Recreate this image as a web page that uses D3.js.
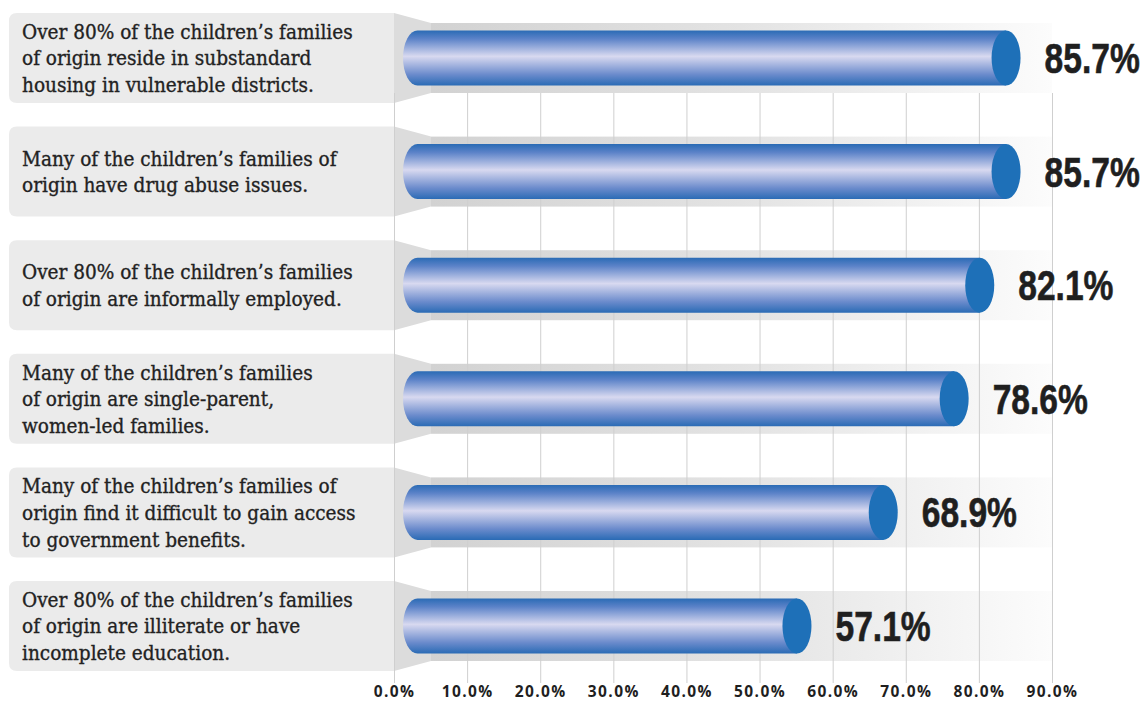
<!DOCTYPE html>
<html>
<head>
<meta charset="utf-8">
<script src="https://cdnjs.cloudflare.com/ajax/libs/d3/7.8.5/d3.min.js"></script>
<style>
  html, body { margin: 0; padding: 0; background: #fff; }
  svg { display: block; }
</style>
</head>
<body>
<div id="chart"></div>
<script>
// statements shown on the left, split into lines as in the picture
var labels = [
  ["Over 80% of the children\u2019s families", "of origin reside in substandard", "housing in vulnerable districts."],
  ["Many of the children\u2019s families of", "origin have drug abuse issues."],
  ["Over 80% of the children\u2019s families", "of origin are informally employed."],
  ["Many of the children\u2019s families", "of origin are single-parent,", "women-led families."],
  ["Many of the children\u2019s families of", "origin find it difficult to gain access", "to government benefits."],
  ["Over 80% of the children\u2019s families", "of origin are illiterate or have", "incomplete education."]
];
var values = [85.7, 85.7, 82.1, 78.6, 68.9, 57.1];
var ticks = [0, 10, 20, 30, 40, 50, 60, 70, 80, 90];

var width = 1146, height = 702;

var svg = d3.select("#chart").append("svg")
  .attr("width", width)
  .attr("height", height);

var x = d3.scaleLinear().domain([0, 90]).range([394, 1052]);
var y = d3.scalePoint().domain(d3.range(values.length)).range([58, 626]);

var boxLeft = 9, boxHalf = 45, trackHalf = 35, trackStart = 431;
var barHalf = 27.5, capRx = 14.5, barLeft = 403;

var defs = svg.append("defs");

var tg = defs.append("linearGradient").attr("id", "track")
  .attr("gradientUnits", "userSpaceOnUse")
  .attr("x1", trackStart).attr("x2", x(90)).attr("y1", 0).attr("y2", 0);
tg.append("stop").attr("offset", 0).attr("stop-color", "#d2d2d2");
tg.append("stop").attr("offset", 0.5).attr("stop-color", "#e3e3e3");
tg.append("stop").attr("offset", 1).attr("stop-color", "#fcfcfc");

var bg = defs.append("linearGradient").attr("id", "barfill")
  .attr("x1", 0).attr("x2", 0).attr("y1", 0).attr("y2", 1);
bg.append("stop").attr("offset", 0).attr("stop-color", "#2a6bb5");
bg.append("stop").attr("offset", 0.15).attr("stop-color", "#5b82c8");
bg.append("stop").attr("offset", 0.47).attr("stop-color", "#d8d9f0");
bg.append("stop").attr("offset", 0.8).attr("stop-color", "#6b8bcc");
bg.append("stop").attr("offset", 1).attr("stop-color", "#2a6bb5");

var rows = svg.append("g").selectAll("g")
  .data(values)
  .join("g");

// label boxes, rounded on the left side
rows.append("path")
  .attr("fill", "#ebebeb")
  .attr("d", function(d, i) {
    var c = y(i), r = 8, t = c - boxHalf, b = c + boxHalf, xr = x(0);
    return "M" + xr + "," + t + "H" + (boxLeft + r) +
      "Q" + boxLeft + "," + t + " " + boxLeft + "," + (t + r) +
      "V" + (b - r) + "Q" + boxLeft + "," + b + " " + (boxLeft + r) + "," + b +
      "H" + xr + "Z";
  });

// trapezoid joining box and track
rows.append("path")
  .attr("fill", "#dcdcdc")
  .attr("d", function(d, i) {
    var c = y(i);
    return "M" + x(0) + "," + (c - boxHalf) + "L" + trackStart + "," + (c - trackHalf) +
      "L" + trackStart + "," + (c + trackHalf) + "L" + x(0) + "," + (c + boxHalf) + "Z";
  });

rows.append("rect")
  .attr("x", trackStart)
  .attr("y", function(d, i) { return y(i) - trackHalf; })
  .attr("width", x(90) - trackStart)
  .attr("height", trackHalf * 2)
  .attr("fill", "url(#track)");

// grid
svg.append("g").selectAll("line")
  .data(ticks)
  .join("line")
  .attr("x1", function(d) { return x(d) + 0.5; })
  .attr("x2", function(d) { return x(d) + 0.5; })
  .attr("y1", y(0) + trackHalf)
  .attr("y2", 683)
  .attr("stroke", "#cfcfcf")
  .attr("stroke-width", 1);

// cylinders
var bars = svg.append("g").selectAll("g")
  .data(values)
  .join("g");

bars.append("path")
  .attr("fill", "url(#barfill)")
  .attr("d", function(d, i) {
    var c = y(i), t = c - barHalf, b = c + barHalf;
    var l = barLeft + capRx, r = x(d) - capRx;
    return "M" + r + "," + t + "H" + l +
      "A" + capRx + "," + barHalf + " 0 0 0 " + l + "," + b +
      "H" + r + "Z";
  });

bars.append("ellipse")
  .attr("cx", function(d) { return x(d) - capRx; })
  .attr("cy", function(d, i) { return y(i); })
  .attr("rx", capRx)
  .attr("ry", barHalf)
  .attr("fill", "#1e70b8");

// value labels
bars.append("text")
  .attr("transform", function(d, i) {
    return "translate(" + (x(d) + 24) + "," + (y(i) + 15) + ") scale(0.8,1)";
  })
  .attr("font-family", "'Liberation Sans', Arial, sans-serif")
  .attr("font-weight", "bold")
  .attr("font-size", 42)
  .attr("fill", "#1f1f1f")
  .attr("stroke", "#1f1f1f")
  .attr("stroke-width", 0.6)
  .text(function(d) { return d3.format(".1f")(d) + "%"; });

// statement text, narrowed so the first line is as wide as in the picture
var lineH = 26.7;
var labelText = rows.append("text")
  .attr("font-family", "'DejaVu Serif', serif")
  .attr("font-size", 20)
  .attr("fill", "#222")
  .attr("stroke", "#222")
  .attr("stroke-width", 0.35)
  .each(function(d, i) {
    var lines = labels[i];
    var first = y(i) - (lines.length - 1) / 2 * lineH + 7.5;
    d3.select(this).selectAll("tspan")
      .data(lines)
      .join("tspan")
      .attr("x", 0)
      .attr("y", function(l, j) { return first + j * lineH; })
      .text(function(l) { return l; });
  });
var refLen = labelText.filter(function(d, i) { return i === 0; })
  .select("tspan").node().getComputedTextLength();
var sx = 331 / refLen;
labelText.attr("transform", "translate(22,0) scale(" + sx + ",1)");

// axis
var axis = svg.append("g")
  .attr("transform", "translate(0,683)")
  .call(d3.axisBottom(x).tickValues(ticks).tickSize(0).tickPadding(3)
    .tickFormat(function(d) { return d3.format(".1f")(d) + "%"; }));
axis.select(".domain").remove();
axis.selectAll("text")
  .attr("font-family", "'Open Sans', sans-serif")
  .attr("font-weight", "bold")
  .attr("font-size", 15.5)
  .attr("letter-spacing", 1.4)
  .attr("fill", "#1f1f1f");
</script>
</body>
</html>
